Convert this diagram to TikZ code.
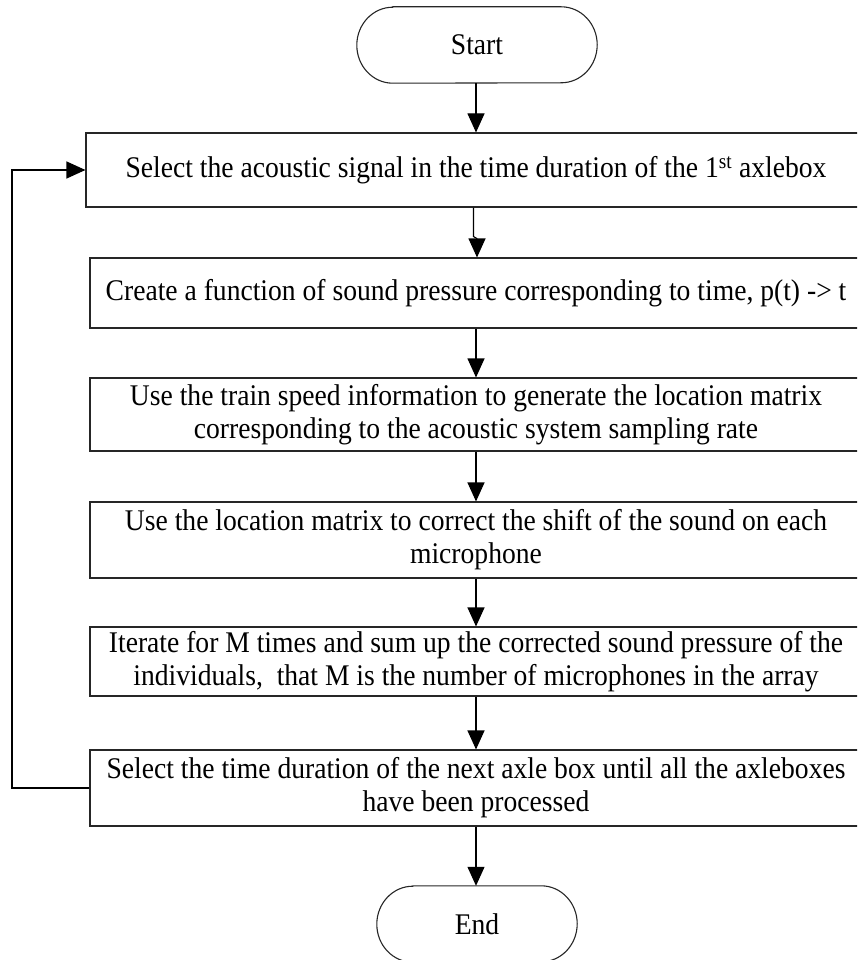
\documentclass[tikz,border=0pt]{standalone}
\usepackage{fontspec}
\setmainfont{Liberation Serif}[FakeStretch=0.92]
\usetikzlibrary{arrows.meta}
\begin{document}
\begin{tikzpicture}[x=1pt,y=-1pt,
  every node/.style={font=\fontsize{30}{33}\selectfont, text=black},
  stepbox/.style={draw=black!85, line width=1.1pt, rectangle, align=center, inner sep=0pt},
  termnode/.style={rectangle, inner sep=0pt},
  outline/.style={draw=black!85, line width=1.1pt},
  arr/.style={draw=black, line width=1.1pt, -{Triangle[length=19pt,width=17pt]}}
]
\useasboundingbox (0,0) rectangle (857,960);
\clip (0,0) rectangle (857,960);

% terminals (rounded ends drawn below)
\node[termnode, minimum width=240pt, minimum height=76pt] (start) at (477,45) {Start};
\node[termnode, minimum width=200pt, minimum height=76pt] (end) at (477,924) {End};
\draw[outline] ([xshift=36pt]start.north west) -- ([xshift=-36pt]start.north east)
  arc[start angle=90, end angle=-90, x radius=36pt, y radius=38pt]
  -- ([xshift=36pt]start.south west)
  arc[start angle=270, end angle=90, x radius=36pt, y radius=38pt] -- cycle;
\draw[outline] ([xshift=36pt]end.north west) -- ([xshift=-36pt]end.north east)
  arc[start angle=90, end angle=-90, x radius=36pt, y radius=38pt]
  -- ([xshift=36pt]end.south west)
  arc[start angle=270, end angle=90, x radius=36pt, y radius=38pt] -- cycle;

% process steps (right sides run past the frame)
\node[stepbox, minimum width=780pt, minimum height=74pt] (b1) at (476,170)
  {Select the acoustic signal in the time duration of the 1\textsuperscript{st} axlebox};
\node[stepbox, minimum width=772pt, minimum height=70pt] (b2) at (476,293)
  {Create a function of sound pressure corresponding to time, p(t) -> t};
\node[stepbox, minimum width=772pt, minimum height=73pt] (b3) at (476,414.5)
  {Use the train speed information to generate the location matrix\\corresponding to the acoustic system sampling rate};
\node[stepbox, minimum width=772pt, minimum height=76pt] (b4) at (476,540)
  {Use the location matrix to correct the shift of the sound on each\\microphone};
\node[stepbox, minimum width=772pt, minimum height=69pt] (b5) at (476,661.5)
  {Iterate for M times and sum up the corrected sound pressure of the\\individuals,~ that M is the number of microphones in the array};
\node[stepbox, minimum width=772pt, minimum height=76pt] (b6) at (476,788)
  {Select the time duration of the next axle box until all the axleboxes\\have been processed};

% connectors
\draw[arr] (start.south -| b1.north) -- (b1.north);
\coordinate (j1) at ([xshift=-2.5pt]b1.south);
\coordinate (j2) at ([xshift=-2.5pt,yshift=-29pt]b1.south);
\coordinate (j3) at ([xshift=1pt,yshift=-31pt]b1.south);
\draw[arr] (j1) -- (j2) -- (j3) -- (b2.north -| j3);
\draw[arr] (b2.south) -- (b3.north);
\draw[arr] (b3.south) -- (b4.north);
\draw[arr] (b4.south) -- (b5.north);
\draw[arr] (b5.south) -- (b6.north);
\draw[arr] (b6.south) -- (b6.south |- end.north);

% loop back to the first step
\coordinate (lb) at (12,788);
\coordinate (lt) at (12,170);
\draw[arr] (b6.west) -- (lb) -- (lt) -- (b1.west);
\end{tikzpicture}
\end{document}
